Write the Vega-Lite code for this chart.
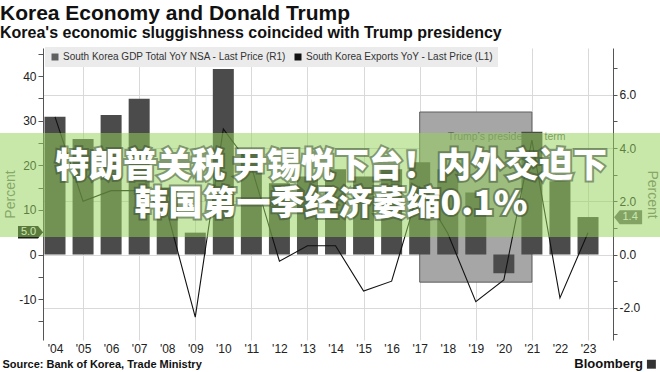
{
  "$schema": "https://vega.github.io/schema/vega-lite/v6.json",
  "width": 570,
  "height": 292,
  "autosize": {"type": "none"},
  "padding": {"left": 43, "top": 48, "right": 47, "bottom": 32},
  "background": "#ffffff",
  "config": {
    "font": "Liberation Sans",
    "view": {"stroke": null},
    "axis": {"labelFont": "Liberation Sans", "titleFont": "Liberation Sans"},
    "axisX": {
      "ticks": false,
      "domain": false,
      "labelFontSize": 12,
      "labelColor": "#222222",
      "labelPadding": 3,
      "labelOverlap": false,
      "labelFlush": false,
      "gridColor": "#d9d9d9",
      "titleFontSize": 11,
      "titleFontWeight": "bold",
      "titleColor": "#111111"
    }
  },
  "title": {
    "text": "Korea Economy and Donald Trump",
    "subtitle": "Korea's economic sluggishness coincided with Trump presidency",
    "anchor": "start",
    "frame": "group",
    "dx": -43,
    "offset": 6,
    "font": "Liberation Sans",
    "subtitleFont": "Liberation Sans",
    "fontSize": 21,
    "subtitleFontSize": 16,
    "fontWeight": "bold",
    "subtitleFontWeight": "bold",
    "color": "#111111",
    "subtitleColor": "#111111",
    "subtitlePadding": 1
  },
  "datasets": {
    "econ": [
      {"year": 2004, "exports": 30.9, "gdp": 5.17},
      {"year": 2005, "exports": 25.9, "gdp": 2.0},
      {"year": 2006, "exports": 31.3, "gdp": 2.4},
      {"year": 2007, "exports": 34.9, "gdp": 2.4},
      {"year": 2008, "exports": 15.0, "gdp": 1.6},
      {"year": 2009, "exports": 4.9, "gdp": -2.35},
      {"year": 2010, "exports": 41.6, "gdp": 4.72},
      {"year": 2011, "exports": 23.0, "gdp": 3.3},
      {"year": 2012, "exports": 16.0, "gdp": -0.25},
      {"year": 2013, "exports": 17.5, "gdp": 0.33},
      {"year": 2014, "exports": 19.1, "gdp": 0.33},
      {"year": 2015, "exports": 17.5, "gdp": -1.37},
      {"year": 2016, "exports": 19.1, "gdp": -1.0},
      {"year": 2017, "exports": 20.7, "gdp": 2.55},
      {"year": 2018, "exports": 19.1, "gdp": 0.8},
      {"year": 2019, "exports": 13.9, "gdp": -1.77},
      {"year": 2020, "exports": -4.2, "gdp": -0.95},
      {"year": 2021, "exports": 27.5, "gdp": 4.3},
      {"year": 2022, "exports": 16.4, "gdp": -1.63},
      {"year": 2023, "exports": 8.4, "gdp": 0.82}
    ]
  },
  "data": {"name": "econ"},
  "layer": [
    {
      "data": {"values": [{"start": 2017, "end": 2021, "label": "Trump's presidential term"}]},
      "mark": {"type": "rect", "fill": "#a6a6a6", "stroke": "#5e5e5e", "strokeWidth": 1},
      "encoding": {
        "x": {"field": "start", "type": "quantitative", "scale": {"domain": [2003.572, 2023.891], "nice": false, "zero": false, "padding": 0},
          "axis": {"values": [2004, 2005, 2006, 2007, 2008, 2009, 2010, 2011, 2012, 2013, 2014, 2015, 2016, 2017, 2018, 2019, 2020, 2021, 2022, 2023], "labelExpr": "\"'\" + slice(toString(datum.value), 2)", "grid": true, "gridOpacity": {"condition": {"test": "datum.value % 2 == 1", "value": 1}, "value": 0}, "title": "Source: Bank of Korea, Trade Ministry", "titleX": -41, "titleY": 24, "titleAlign": "left", "titleAnchor": "start", "titleBaseline": "middle"}},
        "x2": {"field": "end"},
        "y": {"datum": 31.95, "type": "quantitative", "scale": {"domain": [-19.17, 46.3], "nice": false, "zero": false}, "axis": null},
        "y2": {"datum": -6.2}
      }
    },
    {
      "data": {"values": [{"start": 2017, "end": 2021, "label": "Trump's presidential term"}]},
      "mark": {"type": "text", "align": "left", "baseline": "middle", "fontSize": 10.5, "color": "#666666", "font": "Liberation Sans"},
      "encoding": {
        "x": {"datum": 2018, "type": "quantitative", "scale": {"domain": [2003.572, 2023.891], "nice": false, "zero": false, "padding": 0},
          "axis": {"values": [2004, 2005, 2006, 2007, 2008, 2009, 2010, 2011, 2012, 2013, 2014, 2015, 2016, 2017, 2018, 2019, 2020, 2021, 2022, 2023], "labelExpr": "\"'\" + slice(toString(datum.value), 2)", "grid": true, "gridOpacity": {"condition": {"test": "datum.value % 2 == 1", "value": 1}, "value": 0}, "title": "Source: Bank of Korea, Trade Ministry", "titleX": -41, "titleY": 24, "titleAlign": "left", "titleAnchor": "start", "titleBaseline": "middle"}},
        "y": {"datum": 26.3, "type": "quantitative", "scale": {"domain": [-19.17, 46.3], "nice": false, "zero": false}, "axis": null},
        "text": {"field": "label"}
      }
    },
    {
      "mark": {"type": "bar", "size": 21, "color": "#4b4b4b"},
      "encoding": {
        "x": {"field": "year", "type": "quantitative", "scale": {"domain": [2003.572, 2023.891], "nice": false, "zero": false, "padding": 0},
          "axis": {"values": [2004, 2005, 2006, 2007, 2008, 2009, 2010, 2011, 2012, 2013, 2014, 2015, 2016, 2017, 2018, 2019, 2020, 2021, 2022, 2023], "labelExpr": "\"'\" + slice(toString(datum.value), 2)", "grid": true, "gridOpacity": {"condition": {"test": "datum.value % 2 == 1", "value": 1}, "value": 0}, "title": "Source: Bank of Korea, Trade Ministry", "titleX": -41, "titleY": 24, "titleAlign": "left", "titleAnchor": "start", "titleBaseline": "middle"}},
        "y": {
          "field": "exports", "type": "quantitative",
          "scale": {"domain": [-19.17, 46.3], "nice": false, "zero": false},
          "axis": {
            "orient": "left",
            "values": [-15, -10, -5, 0, 5, 10, 15, 20, 25, 30, 35, 40, 45],
            "labelExpr": "datum.value % 10 == 0 ? toString(datum.value) : ''",
            "grid": false,
            "tickSize": 5,
            "tickColor": "#555555",
            "domainColor": "#555555",
            "labelFontSize": 12,
            "labelColor": "#222222",
            "labelPadding": 2,
            "title": "Percent",
            "titleColor": "#777777",
            "titleFontSize": 14,
            "titleFontWeight": "normal",
            "titlePadding": 1
          }
        }
      }
    },
    {
      "data": {"values": [{"series": "South Korea GDP Total YoY NSA - Last Price (R1)"}, {"series": "South Korea Exports YoY - Last Price (L1)"}]},
      "mark": {"type": "square", "opacity": 0},
      "encoding": {
        "color": {
          "field": "series", "type": "nominal",
          "scale": {"domain": ["South Korea GDP Total YoY NSA - Last Price (R1)", "South Korea Exports YoY - Last Price (L1)"], "range": ["#606060", "#111111"]},
          "legend": {
            "orient": "none", "legendX": 2, "legendY": -1, "direction": "horizontal",
            "fillColor": "#ebebeb", "padding": 5, "symbolType": "square", "symbolSize": 49,
            "symbolOpacity": 1, "symbolStrokeWidth": 0, "labelFontSize": 10, "labelColor": "#333333",
            "labelFont": "Liberation Sans", "labelOffset": 3, "columnPadding": 6, "title": null, "labelLimit": 400
          }
        }
      }
    },
    {
      "mark": {"type": "line", "color": "#111111", "strokeWidth": 1.1},
      "encoding": {
        "x": {"field": "year", "type": "quantitative", "scale": {"domain": [2003.572, 2023.891], "nice": false, "zero": false, "padding": 0},
          "axis": {"values": [2004, 2005, 2006, 2007, 2008, 2009, 2010, 2011, 2012, 2013, 2014, 2015, 2016, 2017, 2018, 2019, 2020, 2021, 2022, 2023], "labelExpr": "\"'\" + slice(toString(datum.value), 2)", "grid": true, "gridOpacity": {"condition": {"test": "datum.value % 2 == 1", "value": 1}, "value": 0}, "title": "Source: Bank of Korea, Trade Ministry", "titleX": -41, "titleY": 24, "titleAlign": "left", "titleAnchor": "start", "titleBaseline": "middle"}},
        "y": {
          "field": "gdp", "type": "quantitative",
          "scale": {"domain": [-3.21, 7.76], "nice": false, "zero": false},
          "axis": {
            "orient": "right",
            "values": [-3, -2, -1, 0, 1, 2, 3, 4, 5, 6, 7],
            "labelExpr": "datum.value % 2 == 0 ? replace(format(datum.value, '.1f'), '\u2212', '-') : ''",
            "grid": true,
            "gridColor": "#d9d9d9",
            "gridOpacity": {"condition": {"test": "datum.value % 2 == 0", "value": 1}, "value": 0},
            "tickSize": 4,
            "tickColor": "#555555",
            "domainColor": "#555555",
            "labelFontSize": 12,
            "labelColor": "#222222",
            "labelPadding": 2,
            "title": "Percent",
            "titleColor": "#777777",
            "titleFontSize": 14,
            "titleFontWeight": "normal",
            "titlePadding": 5
          }
        }
      }
    },
    {
      "data": {"values": [{"last": 5.0}]},
      "mark": {"type": "point", "shape": "M-1,-0.5 L0.6,-0.5 L1,0 L0.6,0.5 L-1,0.5 Z", "size": 625, "filled": true, "fill": "#1c1c1c", "opacity": 1, "strokeWidth": 0},
      "encoding": {
        "x": {"datum": 2003.127, "type": "quantitative", "scale": {"domain": [2003.572, 2023.891], "nice": false, "zero": false, "padding": 0},
          "axis": {"values": [2004, 2005, 2006, 2007, 2008, 2009, 2010, 2011, 2012, 2013, 2014, 2015, 2016, 2017, 2018, 2019, 2020, 2021, 2022, 2023], "labelExpr": "\"'\" + slice(toString(datum.value), 2)", "grid": true, "gridOpacity": {"condition": {"test": "datum.value % 2 == 1", "value": 1}, "value": 0}, "title": "Source: Bank of Korea, Trade Ministry", "titleX": -41, "titleY": 24, "titleAlign": "left", "titleAnchor": "start", "titleBaseline": "middle"}},
        "y": {"field": "last", "type": "quantitative", "scale": {"domain": [-19.17, 46.3], "nice": false, "zero": false}, "axis": null}
      }
    },
    {
      "data": {"values": [{"last": 5.0}]},
      "mark": {"type": "text", "align": "center", "baseline": "middle", "dx": -2, "fontSize": 11, "color": "#ffffff"},
      "encoding": {
        "x": {"datum": 2003.127, "type": "quantitative", "scale": {"domain": [2003.572, 2023.891], "nice": false, "zero": false, "padding": 0},
          "axis": {"values": [2004, 2005, 2006, 2007, 2008, 2009, 2010, 2011, 2012, 2013, 2014, 2015, 2016, 2017, 2018, 2019, 2020, 2021, 2022, 2023], "labelExpr": "\"'\" + slice(toString(datum.value), 2)", "grid": true, "gridOpacity": {"condition": {"test": "datum.value % 2 == 1", "value": 1}, "value": 0}, "title": "Source: Bank of Korea, Trade Ministry", "titleX": -41, "titleY": 24, "titleAlign": "left", "titleAnchor": "start", "titleBaseline": "middle"}},
        "y": {"field": "last", "type": "quantitative", "scale": {"domain": [-19.17, 46.3], "nice": false, "zero": false}, "axis": null},
        "text": {"field": "last", "format": ".1f"}
      }
    },
    {
      "data": {"values": [{"last": 1.4}]},
      "mark": {"type": "point", "shape": "M-1,0 L-0.6,-0.5 L1,-0.5 L1,0.5 L-0.6,0.5 Z", "size": 784, "filled": true, "fill": "#6f6f6f", "opacity": 1, "strokeWidth": 0},
      "encoding": {
        "x": {"datum": 2024.43, "type": "quantitative", "scale": {"domain": [2003.572, 2023.891], "nice": false, "zero": false, "padding": 0},
          "axis": {"values": [2004, 2005, 2006, 2007, 2008, 2009, 2010, 2011, 2012, 2013, 2014, 2015, 2016, 2017, 2018, 2019, 2020, 2021, 2022, 2023], "labelExpr": "\"'\" + slice(toString(datum.value), 2)", "grid": true, "gridOpacity": {"condition": {"test": "datum.value % 2 == 1", "value": 1}, "value": 0}, "title": "Source: Bank of Korea, Trade Ministry", "titleX": -41, "titleY": 24, "titleAlign": "left", "titleAnchor": "start", "titleBaseline": "middle"}},
        "y": {"field": "last", "type": "quantitative", "scale": {"domain": [-3.21, 7.76], "nice": false, "zero": false}, "axis": null}
      }
    },
    {
      "data": {"values": [{"last": 1.4}]},
      "mark": {"type": "text", "align": "center", "baseline": "middle", "dx": 2, "fontSize": 11, "color": "#ffffff"},
      "encoding": {
        "x": {"datum": 2024.43, "type": "quantitative", "scale": {"domain": [2003.572, 2023.891], "nice": false, "zero": false, "padding": 0},
          "axis": {"values": [2004, 2005, 2006, 2007, 2008, 2009, 2010, 2011, 2012, 2013, 2014, 2015, 2016, 2017, 2018, 2019, 2020, 2021, 2022, 2023], "labelExpr": "\"'\" + slice(toString(datum.value), 2)", "grid": true, "gridOpacity": {"condition": {"test": "datum.value % 2 == 1", "value": 1}, "value": 0}, "title": "Source: Bank of Korea, Trade Ministry", "titleX": -41, "titleY": 24, "titleAlign": "left", "titleAnchor": "start", "titleBaseline": "middle"}},
        "y": {"field": "last", "type": "quantitative", "scale": {"domain": [-3.21, 7.76], "nice": false, "zero": false}, "axis": null},
        "text": {"field": "last", "format": ".1f"}
      }
    },
    {
      "data": {"values": [{"band": "overlay"}]},
      "mark": {"type": "rect", "fill": "#96d35c", "opacity": 0.52},
      "encoding": {
        "x": {"datum": 2002.0, "type": "quantitative", "scale": {"domain": [2003.572, 2023.891], "nice": false, "zero": false, "padding": 0},
          "axis": {"values": [2004, 2005, 2006, 2007, 2008, 2009, 2010, 2011, 2012, 2013, 2014, 2015, 2016, 2017, 2018, 2019, 2020, 2021, 2022, 2023], "labelExpr": "\"'\" + slice(toString(datum.value), 2)", "grid": true, "gridOpacity": {"condition": {"test": "datum.value % 2 == 1", "value": 1}, "value": 0}, "title": "Source: Bank of Korea, Trade Ministry", "titleX": -41, "titleY": 24, "titleAlign": "left", "titleAnchor": "start", "titleBaseline": "middle"}},
        "x2": {"datum": 2025.6},
        "y": {"datum": 27.24, "type": "quantitative", "scale": {"domain": [-19.17, 46.3], "nice": false, "zero": false}, "axis": null},
        "y2": {"datum": 3.92}
      }
    },
    {
      "data": {"values": [{"t": ["特朗普关税 尹锡悦下台！内外交迫下", "韩国第一季经济萎缩0.1%"]}]},
      "mark": {"type": "text", "align": "center", "baseline": "middle", "font": "Noto Sans CJK SC", "fontWeight": 900, "fontSize": 34, "lineHeight": 38, "color": "#3b4a33", "stroke": "#3b4a33", "strokeWidth": 4, "opacity": 0.5},
      "encoding": {
        "x": {"datum": 2013.84, "type": "quantitative", "scale": {"domain": [2003.572, 2023.891], "nice": false, "zero": false, "padding": 0},
          "axis": {"values": [2004, 2005, 2006, 2007, 2008, 2009, 2010, 2011, 2012, 2013, 2014, 2015, 2016, 2017, 2018, 2019, 2020, 2021, 2022, 2023], "labelExpr": "\"'\" + slice(toString(datum.value), 2)", "grid": true, "gridOpacity": {"condition": {"test": "datum.value % 2 == 1", "value": 1}, "value": 0}, "title": "Source: Bank of Korea, Trade Ministry", "titleX": -41, "titleY": 24, "titleAlign": "left", "titleAnchor": "start", "titleBaseline": "middle"}},
        "y": {"datum": 19.6, "type": "quantitative", "scale": {"domain": [-19.17, 46.3], "nice": false, "zero": false}, "axis": null},
        "text": {"field": "t"}
      }
    },
    {
      "data": {"values": [{"t": ["特朗普关税 尹锡悦下台！内外交迫下", "韩国第一季经济萎缩0.1%"]}]},
      "mark": {"type": "text", "align": "center", "baseline": "middle", "font": "Noto Sans CJK SC", "fontWeight": 900, "fontSize": 34, "lineHeight": 38, "color": "#ffffff"},
      "encoding": {
        "x": {"datum": 2013.84, "type": "quantitative", "scale": {"domain": [2003.572, 2023.891], "nice": false, "zero": false, "padding": 0},
          "axis": {"values": [2004, 2005, 2006, 2007, 2008, 2009, 2010, 2011, 2012, 2013, 2014, 2015, 2016, 2017, 2018, 2019, 2020, 2021, 2022, 2023], "labelExpr": "\"'\" + slice(toString(datum.value), 2)", "grid": true, "gridOpacity": {"condition": {"test": "datum.value % 2 == 1", "value": 1}, "value": 0}, "title": "Source: Bank of Korea, Trade Ministry", "titleX": -41, "titleY": 24, "titleAlign": "left", "titleAnchor": "start", "titleBaseline": "middle"}},
        "y": {"datum": 19.6, "type": "quantitative", "scale": {"domain": [-19.17, 46.3], "nice": false, "zero": false}, "axis": null},
        "text": {"field": "t"}
      }
    },
    {
      "data": {"values": [{"t": "Bloomberg"}]},
      "mark": {"type": "text", "align": "right", "baseline": "middle", "fontSize": 13, "fontWeight": "bold", "color": "#111111", "font": "Liberation Sans"},
      "encoding": {
        "x": {"datum": 2024.96, "type": "quantitative", "scale": {"domain": [2003.572, 2023.891], "nice": false, "zero": false, "padding": 0},
          "axis": {"values": [2004, 2005, 2006, 2007, 2008, 2009, 2010, 2011, 2012, 2013, 2014, 2015, 2016, 2017, 2018, 2019, 2020, 2021, 2022, 2023], "labelExpr": "\"'\" + slice(toString(datum.value), 2)", "grid": true, "gridOpacity": {"condition": {"test": "datum.value % 2 == 1", "value": 1}, "value": 0}, "title": "Source: Bank of Korea, Trade Ministry", "titleX": -41, "titleY": 24, "titleAlign": "left", "titleAnchor": "start", "titleBaseline": "middle"}},
        "y": {"datum": -24.6, "type": "quantitative", "scale": {"domain": [-19.17, 46.3], "nice": false, "zero": false}, "axis": null},
        "text": {"field": "t"}
      }
    },
    {
      "data": {"values": [{"t": "logo"}]},
      "mark": {"type": "square", "size": 80, "color": "#333333", "opacity": 1},
      "encoding": {
        "x": {"datum": 2025.26, "type": "quantitative", "scale": {"domain": [2003.572, 2023.891], "nice": false, "zero": false, "padding": 0},
          "axis": {"values": [2004, 2005, 2006, 2007, 2008, 2009, 2010, 2011, 2012, 2013, 2014, 2015, 2016, 2017, 2018, 2019, 2020, 2021, 2022, 2023], "labelExpr": "\"'\" + slice(toString(datum.value), 2)", "grid": true, "gridOpacity": {"condition": {"test": "datum.value % 2 == 1", "value": 1}, "value": 0}, "title": "Source: Bank of Korea, Trade Ministry", "titleX": -41, "titleY": 24, "titleAlign": "left", "titleAnchor": "start", "titleBaseline": "middle"}},
        "y": {"datum": -24.6, "type": "quantitative", "scale": {"domain": [-19.17, 46.3], "nice": false, "zero": false}, "axis": null}
      }
    }
  ],
  "resolve": {"scale": {"y": "independent"}}
}
